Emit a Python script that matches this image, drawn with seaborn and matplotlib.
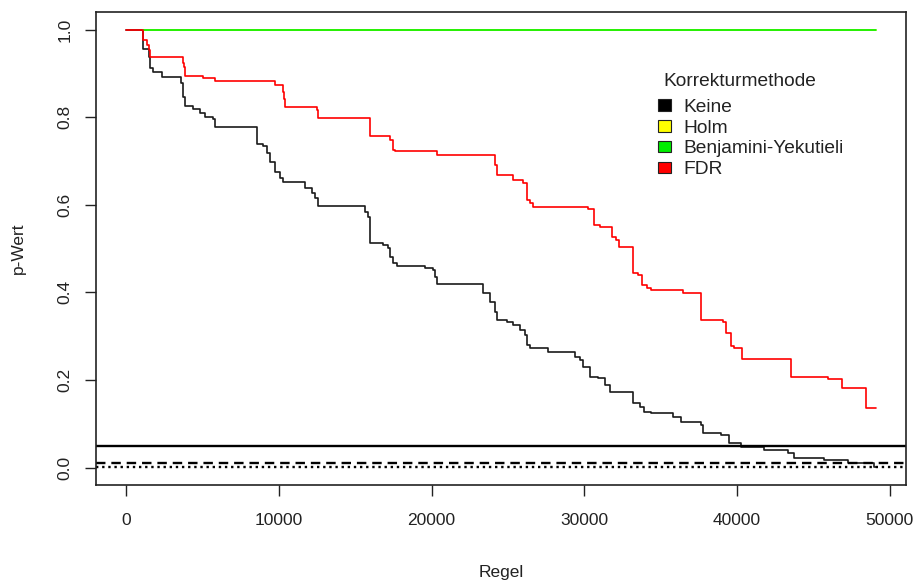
# %% p-Werte je Regel nach Korrekturmethode (R-Optik nachgebaut)
import numpy as np
import pandas as pd
import matplotlib
matplotlib.use('Agg')
import matplotlib.pyplot as plt
from matplotlib.patches import Patch
import seaborn as sns

# %%
# Werte abgelesen: Beginn jeder Stufe (Regel) und p-Wert ab dort
regel_keine = [0, 1114, 1507, 1573, 1769, 2359, 3604, 3735, 3866, 4391, 4849, 5177, 5701,
               5832, 8584, 8978, 9240, 9436, 9764, 10092, 10288, 11730, 12189, 12385, 12582,
               15662, 15858, 15989, 16841, 17169, 17300, 17497, 17759, 19593, 20118, 20249,
               20380, 23394, 23853, 24181, 24312, 24967, 25360, 25819, 26146, 26278, 26474,
               27654, 29423, 29751, 29947, 30406, 30930, 31389, 31717, 33224, 33682, 33879,
               34338, 35779, 36304, 37614, 37745, 38925, 39449, 40235, 41743, 43315, 43709,
               45674, 47247, 48951, 49082]
p_keine = [1.0, 0.956, 0.937, 0.912, 0.903, 0.892, 0.878, 0.846, 0.825, 0.820, 0.809, 0.800,
           0.796, 0.777, 0.739, 0.734, 0.718, 0.697, 0.675, 0.661, 0.652, 0.638, 0.627, 0.615,
           0.597, 0.583, 0.572, 0.513, 0.509, 0.502, 0.481, 0.467, 0.460, 0.456, 0.452, 0.435,
           0.419, 0.398, 0.378, 0.355, 0.337, 0.332, 0.325, 0.314, 0.303, 0.280, 0.273, 0.264,
           0.252, 0.245, 0.229, 0.207, 0.205, 0.188, 0.172, 0.147, 0.138, 0.127, 0.124, 0.115,
           0.104, 0.097, 0.079, 0.074, 0.056, 0.046, 0.040, 0.033, 0.022, 0.017, 0.010, 0.001,
           0.001]

regel_fdr = [0, 1114, 1376, 1507, 1573, 3735, 3801, 3866, 5046, 5832, 9764, 10288, 10354,
             10419, 12516, 12582, 15989, 17300, 17497, 17628, 20380, 24181, 24312, 25360,
             26015, 26278, 26474, 26671, 30275, 30668, 31061, 31848, 32110, 32306, 33224,
             33551, 33813, 34076, 34338, 36435, 37614, 39056, 39252, 39580, 39800, 40301,
             43512, 45937, 46854, 48427, 49082]
p_fdr = [1.0, 0.976, 0.965, 0.953, 0.937, 0.924, 0.914, 0.894, 0.889, 0.883, 0.873, 0.858,
         0.841, 0.823, 0.816, 0.798, 0.757, 0.748, 0.725, 0.723, 0.713, 0.690, 0.668, 0.656,
         0.650, 0.611, 0.604, 0.595, 0.590, 0.553, 0.549, 0.526, 0.519, 0.503, 0.444, 0.440,
         0.417, 0.410, 0.405, 0.398, 0.337, 0.332, 0.307, 0.277, 0.273, 0.248, 0.207, 0.202,
         0.182, 0.136, 0.136]

regel_holm = [1100, 49100]
p_holm = [1.0, 1.0]
regel_by = [1100, 49100]
p_by = [1.0, 1.0]

schwellen = [0.05, 0.01, 0.001]

methoden = ['Keine', 'Holm', 'Benjamini-Yekutieli', 'FDR']
farben = ['#000000', '#ffff00', '#00ee00', '#ff0000']

# %%
sns.set_style('ticks')
plt.rcParams['font.family'] = ['Liberation Sans', 'DejaVu Sans']
txt = '#222222'

fig = plt.figure(figsize=(9.17, 5.83), dpi=100)
ax = fig.add_axes([0.1047, 0.168, 0.8833, 0.811])

serien = [(regel_keine, p_keine, '#1a1a1a'),
          (regel_holm, p_holm, farben[1]),
          (regel_by, p_by, farben[2]),
          (regel_fdr, p_fdr, farben[3])]
for rx, py, col in serien:
    df = pd.DataFrame({'Regel': rx, 'p': py})
    sns.lineplot(data=df, x='Regel', y='p', color=col, lw=1.2,
                 drawstyle='steps-post', estimator=None, sort=False, ax=ax)

ax.axhline(schwellen[0], color='black', lw=1.7)
ax.axhline(schwellen[1], color='black', lw=1.7, dashes=(4, 2.5))
ax.axhline(schwellen[2], color='black', lw=1.7, linestyle=(0, (1, 1.6)))

ax.set_xlim(-1964, 51064)
ax.set_ylim(-0.04, 1.04)
ax.set_xticks([0, 10000, 20000, 30000, 40000, 50000])
ax.set_yticks([0.0, 0.2, 0.4, 0.6, 0.8, 1.0])
ax.set_yticklabels(['0.0', '0.2', '0.4', '0.6', '0.8', '1.0'], rotation=90, va='center')
ax.tick_params(length=8, width=1, colors=txt, labelsize=12.5, pad=9)
ax.tick_params(axis='x', pad=12)
for s in ax.spines.values():
    s.set_visible(True)
    s.set_linewidth(1.2)
    s.set_color('#222222')

ax.set_xlabel('Regel', fontsize=12.5, color=txt, labelpad=27)
ax.set_ylabel('p-Wert', fontsize=12.5, color=txt, labelpad=23)

# Legende wie bei R: Titel etwas abgesetzt ueber den Eintraegen
fig.text(0.723, 0.861, 'Korrekturmethode', fontsize=13.8, color=txt, va='center', ha='left')
handles = [Patch(facecolor=c, edgecolor='#222222', lw=0.8) for c in farben]
leg = ax.legend(handles, methoden, frameon=False,
                loc='upper left', bbox_to_anchor=(0.7176, 0.8305), bbox_transform=fig.transFigure,
                fontsize=13.8, handlelength=0.7, handleheight=0.55, handletextpad=0.6,
                labelspacing=0.2, borderaxespad=0, borderpad=0)
for t in leg.get_texts():
    t.set_color(txt)

fig.savefig('out.png', dpi=100)
